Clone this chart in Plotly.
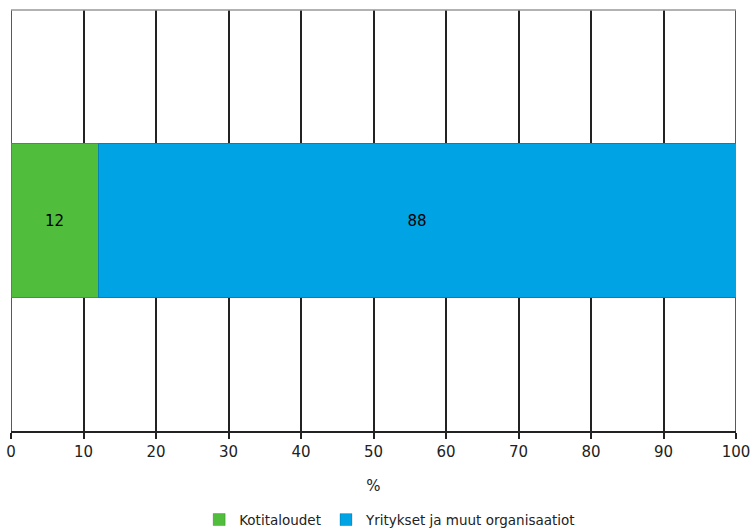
import plotly.graph_objects as go

categories = [""]
series_names = ["Kotitaloudet", "Yritykset ja muut organisaatiot"]
kotitaloudet = [12]
yritykset = [88]
tick_vals = list(range(0, 101, 10))
colors = ["#50BE3C", "#00A4E4"]

fig = go.Figure()
for name, vals, col in zip(series_names, [kotitaloudet, yritykset], colors):
    fig.add_trace(go.Bar(
        y=categories, x=vals, name=name, orientation="h",
        marker=dict(color=col, line=dict(color="rgba(0,0,0,0.2)", width=1)),
        text=[str(v) for v in vals], textposition="inside", insidetextanchor="middle",
        textfont=dict(color="black", size=15, family="DejaVu Sans"),
        width=0.366,
    ))

fig.update_layout(
    barmode="stack",
    width=754, height=530,
    margin=dict(l=11, r=18, t=10, b=99, autoexpand=False),
    plot_bgcolor="white", paper_bgcolor="white",
    font=dict(family="DejaVu Sans", size=14, color="#222"),
    showlegend=True,
    legend=dict(orientation="h", x=0.523, xanchor="center", y=-0.211, yanchor="middle",
                font=dict(size=13.5), itemwidth=30, traceorder="normal"),
    xaxis=dict(range=[0, 100], tickvals=tick_vals, showgrid=True, gridcolor="#222",
               gridwidth=1.5, ticks="outside", ticklen=6, tickcolor="#222", tickwidth=1.5,
               showline=True, linecolor="#222", linewidth=1.5, automargin=False,
               title=dict(text="%", font=dict(size=15), standoff=21),
               tickfont=dict(size=15), zeroline=False),
    yaxis=dict(range=[-0.5, 0.5], showticklabels=False, showgrid=False, zeroline=False,
               showline=False, automargin=False),
)
fig.add_shape(type="line", xref="paper", yref="paper", x0=0, x1=1, y0=1, y1=1,
              line=dict(color="#999", width=1.5))
for xv in [tick_vals[0], tick_vals[-1]]:
    fig.add_shape(type="line", xref="x", yref="paper", x0=xv, x1=xv, y0=0, y1=1,
                  line=dict(color="#222", width=1.5), layer="below")
fig.write_html("out.html", config={"displayModeBar": False},
               post_script="document.body.style.margin='0';document.body.style.overflow='hidden';")
